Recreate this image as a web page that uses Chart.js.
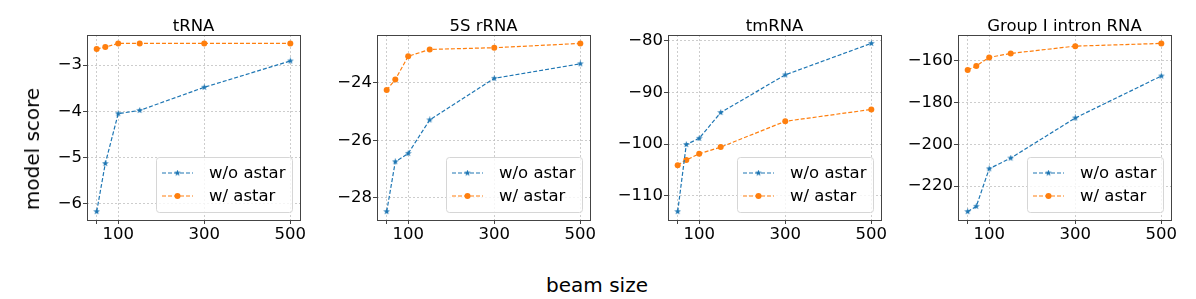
<!DOCTYPE html>
<html>
<head>
<meta charset="utf-8">
<script src="https://cdn.jsdelivr.net/npm/chart.js@4.4.0/dist/chart.umd.min.js"></script>
<style>
  body { margin: 0; background: #fff; width: 1196px; height: 299px; position: relative; overflow: hidden; font-family: 'DejaVu Sans', sans-serif; }
  canvas { position: absolute; top: 0; }
  .ylab { position: absolute; left: 32px; top: 149px; transform: translate(-50%, -50%) rotate(-90deg); font-size: 20px; white-space: nowrap; color: #000; }
  .xlab { position: absolute; left: 597px; top: 285px; transform: translate(-50%, -50%); font-size: 20px; white-space: nowrap; color: #000; }
</style>
</head>
<body>
<canvas id="c0" width="285" height="245"></canvas>
<canvas id="c1" width="285" height="245"></canvas>
<canvas id="c2" width="285" height="245"></canvas>
<canvas id="c3" width="285" height="245"></canvas>
<div class="ylab">model score</div>
<div class="xlab">beam size</div>
<script>
// beam sizes on the x axis
var beamSizes = [50, 70, 100, 150, 300, 500];
var xTicks = [50, 100, 300, 500];
var titles = ['tRNA', '5S rRNA', 'tmRNA', 'Group I intron RNA'];
var seriesLabels = ['w/o astar', 'w/ astar'];

// model scores
var tRNA_noAstar = [-6.17, -5.13, -4.05, -3.98, -3.48, -2.91];
var tRNA_astar = [-2.65, -2.61, -2.53, -2.53, -2.53, -2.53];
var rRNA5S_noAstar = [-28.49, -26.75, -26.46, -25.29, -23.84, -23.33];
var rRNA5S_astar = [-24.25, -23.88, -23.07, -22.83, -22.77, -22.62];
var tmRNA_noAstar = [-113.1, -100.1, -98.9, -93.9, -86.6, -80.5];
var tmRNA_astar = [-104.1, -103.1, -101.9, -100.6, -95.6, -93.3];
var intron_noAstar = [-232.2, -229.7, -211.7, -206.6, -187.4, -167.3];
var intron_astar = [-164.4, -162.5, -158.4, -156.5, -153.0, -151.7];

var yTicks0 = [-6, -5, -4, -3];
var yTicks1 = [-28, -26, -24];
var yTicks2 = [-110, -100, -90, -80];
var yTicks3 = [-220, -200, -180, -160];

var panels = [
    { title: titles[0], a: tRNA_noAstar, b: tRNA_astar, yt: yTicks0, left: 87 },
    { title: titles[1], a: rRNA5S_noAstar, b: rRNA5S_astar, yt: yTicks1, left: 377 },
    { title: titles[2], a: tmRNA_noAstar, b: tmRNA_astar, yt: yTicks2, left: 668 },
    { title: titles[3], a: intron_noAstar, b: intron_astar, yt: yTicks3, left: 958 }
];

var BLUE = '#1f77b4';
var ORANGE = '#ff7f0e';
var FONT = 'DejaVu Sans';

// small filled star like matplotlib's '*'
function makeStar(size, color) {
    var c = document.createElement('canvas');
    c.width = size; c.height = size;
    var g = c.getContext('2d');
    var cx = size / 2, cy = size / 2, R = size / 2, r = R * 0.4;
    g.beginPath();
    for (var i = 0; i < 10; i++) {
        var ang = -Math.PI / 2 + i * Math.PI / 5;
        var rr = i % 2 === 0 ? R : r;
        g.lineTo(cx + rr * Math.cos(ang), cy + rr * Math.sin(ang));
    }
    g.closePath();
    g.fillStyle = color;
    g.fill();
    return c;
}
var star = makeStar(7, BLUE);

function toXY(ys) {
    var out = [];
    for (var i = 0; i < beamSizes.length; i++) out.push({ x: beamSizes[i], y: ys[i] });
    return out;
}

function minus(v) {
    return String(v).replace('-', '\u2212');
}

var framePlugin = {
    id: 'frame',
    afterDraw: function (chart) {
        var ctx = chart.ctx, a = chart.chartArea;
        ctx.save();
        ctx.strokeStyle = '#444';
        ctx.lineWidth = 1;
        ctx.strokeRect(Math.round(a.left) + 0.5, Math.round(a.top) + 0.5, Math.round(a.right - a.left), Math.round(a.bottom - a.top));

        // title
        ctx.fillStyle = '#000';
        ctx.font = '16.5px ' + FONT;
        ctx.textAlign = 'center';
        ctx.textBaseline = 'alphabetic';
        ctx.fillText(chart.options.plugins.frame.title, (a.left + a.right) / 2, 30.5);

        // legend box, lower right
        var w = 136, h = 55;
        var bx = a.right - 8 - w, by = a.bottom - 8 - h;
        ctx.beginPath();
        ctx.roundRect(bx + 0.5, by + 0.5, w, h, 3);
        ctx.fillStyle = 'rgba(255,255,255,0.8)';
        ctx.fill();
        ctx.strokeStyle = '#d6d6d6';
        ctx.stroke();

        var rows = [by + 16, by + 39];
        var cols = [BLUE, ORANGE];
        for (var i = 0; i < 2; i++) {
            ctx.beginPath();
            ctx.setLineDash([4, 2]);
            ctx.strokeStyle = cols[i];
            ctx.lineWidth = 1.2;
            ctx.moveTo(bx + 6, rows[i]);
            ctx.lineTo(bx + 37, rows[i]);
            ctx.stroke();
            ctx.setLineDash([]);
            if (i === 0) {
                ctx.drawImage(star, bx + 21.5 - 3.5, rows[i] - 3.5);
            } else {
                ctx.beginPath();
                ctx.arc(bx + 21.5, rows[i], 3, 0, Math.PI * 2);
                ctx.fillStyle = ORANGE;
                ctx.fill();
            }
            ctx.fillStyle = '#000';
            ctx.font = '16.5px ' + FONT;
            ctx.textAlign = 'left';
            ctx.textBaseline = 'middle';
            ctx.fillText(seriesLabels[i], bx + 53, rows[i] + 1);
        }
        ctx.restore();
    }
};

function DrawPanel(idx, p) {
    var canvas = document.getElementById('c' + idx);
    canvas.style.left = (p.left - 60) + 'px';
    var all = p.a.concat(p.b);
    var lo = Math.min.apply(null, all), hi = Math.max.apply(null, all);
    var m = (hi - lo) * 0.05;

    new Chart(canvas.getContext('2d'), {
        type: 'line',
        data: {
            datasets: [{
                label: seriesLabels[0],
                data: toXY(p.a),
                borderColor: BLUE,
                backgroundColor: BLUE,
                borderWidth: 1.2,
                borderDash: [4, 2],
                pointStyle: star,
                pointRadius: 3,
                tension: 0
            }, {
                label: seriesLabels[1],
                data: toXY(p.b),
                borderColor: ORANGE,
                backgroundColor: ORANGE,
                borderWidth: 1.2,
                borderDash: [4, 2],
                pointStyle: 'circle',
                pointRadius: 3,
                pointBorderWidth: 0,
                tension: 0
            }]
        },
        options: {
            responsive: false,
            animation: false,
            devicePixelRatio: 1,
            layout: { padding: { top: 35, right: 12, left: 0, bottom: 0 } },
            plugins: {
                legend: { display: false },
                tooltip: { enabled: false },
                frame: { title: p.title }
            },
            scales: {
                x: {
                    type: 'linear',
                    min: 27.5,
                    max: 522.5,
                    afterBuildTicks: function (s) { s.ticks = xTicks.map(function (v) { return { value: v }; }); },
                    afterFit: function (s) { s.height = 25; },
                    ticks: {
                        font: { family: FONT, size: 16.5 },
                        color: '#000',
                        padding: 1,
                        maxRotation: 0,
                        callback: function (v) { return v === 50 ? '' : v; }
                    },
                    grid: { color: '#c0c0c0', lineWidth: 0.8, tickLength: 4, tickColor: '#444', tickWidth: 1, tickBorderDash: [] },
                    border: { display: false, dash: [2, 2] }
                },
                y: {
                    min: lo - m,
                    max: hi + m,
                    afterBuildTicks: function (s) { s.ticks = p.yt.map(function (v) { return { value: v }; }); },
                    afterFit: function (s) { s.width = 60; },
                    ticks: {
                        font: { family: FONT, size: 16.5 },
                        color: '#000',
                        padding: 1,
                        callback: function (v) { return minus(v); }
                    },
                    grid: { color: '#c0c0c0', lineWidth: 0.8, tickLength: 4, tickColor: '#444', tickWidth: 1, tickBorderDash: [] },
                    border: { display: false, dash: [2, 2] }
                }
            }
        },
        plugins: [framePlugin]
    });
}

for (var i = 0; i < panels.length; i++) {
    DrawPanel(i, panels[i]);
}
</script>
</body>
</html>
